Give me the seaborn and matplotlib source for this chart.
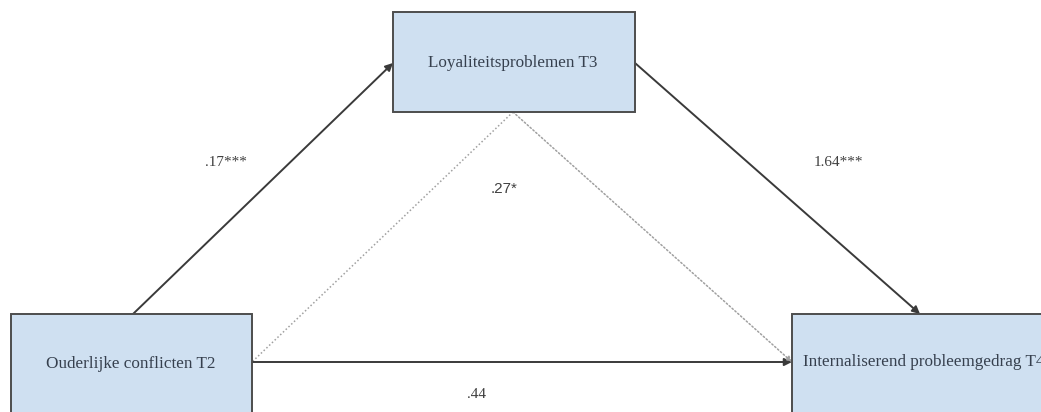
import matplotlib
matplotlib.use("Agg")
import matplotlib.pyplot as plt
import seaborn as sns
from matplotlib.patches import Rectangle

# --- data ---
nodes = ["Ouderlijke conflicten T2", "Loyaliteitsproblemen T3", "Internaliserend probleemgedrag T4"]
path_from = [0, 1, 0, 0]
path_to = [1, 2, 2, 2]
path_kind = ["direct", "direct", "direct", "indirect"]
coefs = [".17***", "1.64***", ".44", ".27*"]

# --- layout (pixels, origin top-left) ---
W, H = 1041, 412
boxes = [(11, 314, 241, 110), (393, 12, 242, 100), (792, 314, 260, 110)]
text_xy = [(131, 364), (513, 63), (803, 362)]
text_ha = ["center", "center", "left"]
starts = [(133, 314), (635, 63), (252, 362), (513, 112)]
ends = [(393, 63), (920, 314), (792, 362), (792, 362)]
coef_xy = [(226, 162), (838, 162), (476, 394), (504, 189)]

sns.set_theme(style="white")
plt.rcParams["font.family"] = ["Liberation Serif", "DejaVu Serif"]

fig = plt.figure(figsize=(W / 100, H / 100), dpi=100)
ax = fig.add_axes([0, 0, 1, 1])
ax.set_xlim(0, W)
ax.set_ylim(H, 0)
ax.axis("off")

# extra dotted leg from the top box down to the left box
ax.plot([starts[3][0], starts[2][0]], [starts[3][1], starts[2][1]],
        color="#a0a0a0", lw=1.1, ls=(0, (1, 1.5)), zorder=1)

for i, (s, e) in enumerate(zip(starts, ends)):
    if path_kind[i] == "direct":
        props = dict(arrowstyle="-|>", color="#3a3a3a", lw=1.4,
                     mutation_scale=11, shrinkA=0, shrinkB=0)
    else:
        props = dict(arrowstyle="-|>", color="#a0a0a0", lw=1.1, ls=(0, (1, 1.5)),
                     mutation_scale=8, shrinkA=0, shrinkB=0)
    ax.annotate("", xy=e, xytext=s, arrowprops=props, zorder=1)

for i, name in enumerate(nodes):
    x, y, w, h = boxes[i]
    ax.add_patch(Rectangle((x, y), w, h, facecolor="#cfe0f1",
                           edgecolor="#4d4d4d", lw=1.4, zorder=2))
    ax.text(*text_xy[i], name, ha=text_ha[i], va="center",
            fontsize=12.3, color="#36404e", zorder=3)

for i, c in enumerate(coefs):
    fam = ["Liberation Sans"] if path_kind[i] == "indirect" else ["Liberation Serif"]
    ax.text(*coef_xy[i], c, ha="center", va="center", fontsize=11,
            color="#404040", family=fam, zorder=3)

fig.savefig("out.png", dpi=100)
